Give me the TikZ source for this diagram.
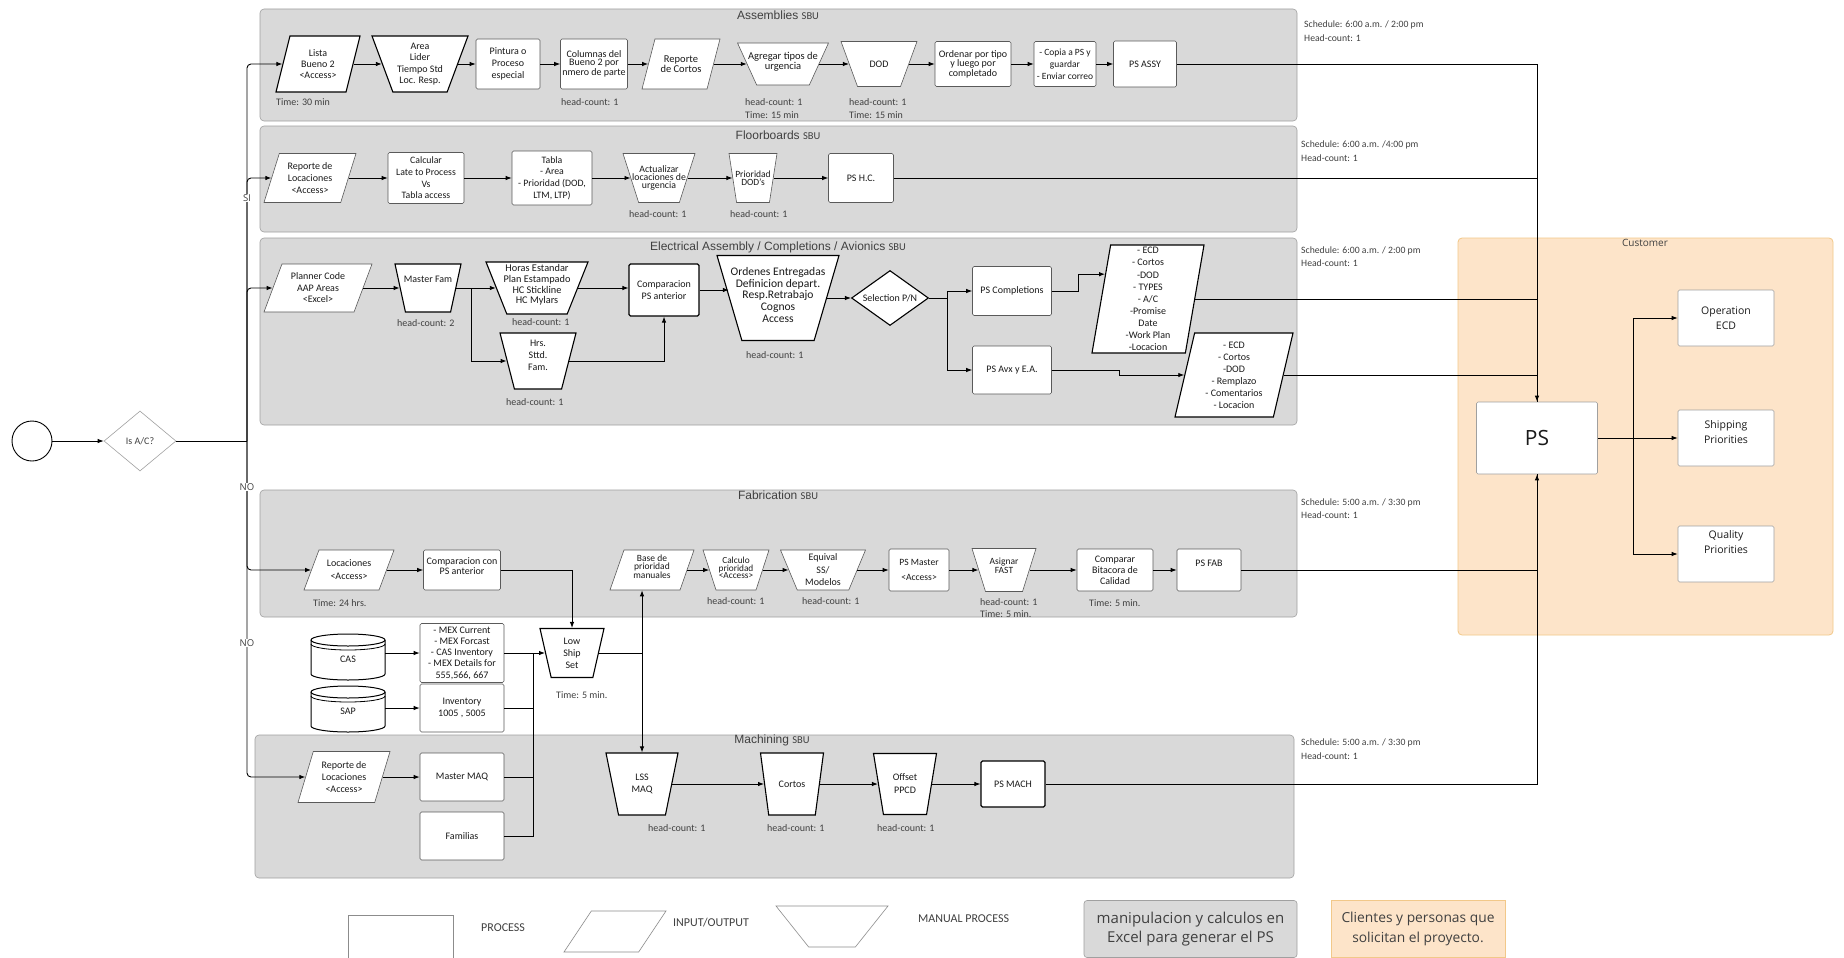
\documentclass[tikz,border=0pt]{standalone}
\usepackage{fontspec}
\setmainfont{Carlito}
\newfontfamily\arialf{Liberation Sans}
\newfontfamily\opensf{Open Sans}
\usetikzlibrary{shapes.geometric,arrows.meta}

\definecolor{lanefill}{HTML}{D9D9D9}
\definecolor{laneedge}{HTML}{A0A0A0}
\definecolor{custfill}{HTML}{FDE4C9}
\definecolor{custedge}{HTML}{F2C889}
\definecolor{ink}{HTML}{1A1A1A}
\definecolor{soft}{HTML}{404040}
\definecolor{liteedge}{HTML}{5A5A5A}
\definecolor{legedge}{HTML}{8C8C8C}

% shape node without text, plus a named text node on top of it
\newcommand\shp[5]{\node[#1] (#2) at #3 {}; \node[#4] (#2-t) at (#2) {#5};}
% database drum centred at #1
\newcommand\dbase[1]{\begin{scope}[shift={#1}]
  \draw[fill=white, draw=black, line width=1pt] (-37,-17) -- (-37,17)
    arc[start angle=180,end angle=360,x radius=37pt,y radius=6pt] -- (37,-17)
    arc[start angle=0,end angle=180,x radius=37pt,y radius=6pt] -- cycle;
  \draw[line width=1pt] (-37,-17) arc[start angle=180,end angle=360,x radius=37pt,y radius=6pt];
  \draw[line width=0.8pt] (-37,-13) arc[start angle=180,end angle=360,x radius=37pt,y radius=6pt];
\end{scope}}
\newcommand\sbu{{\normalfont\fontsize{10.5}{12}\selectfont SBU}}

\begin{document}
\begin{tikzpicture}[x=1pt,y=-1pt,
  every node/.style={inner sep=1pt, align=center, text=ink, font=\fontsize{10}{12}\selectfont},
  fz/.style 2 args={font=\fontsize{#1}{#2}\selectfont},
  sz/.style 2 args={minimum width=#1pt, minimum height=#2pt},
  edgelite/.style={draw=liteedge, line width=0.6pt},
  edgeheavy/.style={draw=black, line width=1.1pt},
  proc/.style={rectangle, rounded corners=1.5pt, fill=white, edgelite},
  io/.style={trapezium, trapezium left angle=76, trapezium right angle=104,
    trapezium stretches=true, fill=white, inner sep=1pt, edgelite},
  iowide/.style={trapezium, trapezium left angle=60, trapezium right angle=120,
    trapezium stretches=true, fill=white, inner sep=1pt, draw=legedge, line width=0.6pt},
  man/.style={trapezium, trapezium left angle=#1, trapezium right angle=#1,
    trapezium stretches=true, fill=white, inner sep=1pt, edgelite},
  man/.default=110,
  lane/.style={fill=lanefill, draw=laneedge, line width=0.6pt, rounded corners=4pt},
  ttl/.style={text=soft, font=\arialf\fontsize{12}{14}\selectfont},
  note/.style={anchor=west, inner sep=0pt, text=soft, font=\fontsize{10}{12}\selectfont},
  sched/.style={anchor=west, inner sep=0pt, text=soft, font=\fontsize{9.7}{11}\selectfont},
  legtxt/.style={anchor=west, inner sep=0pt, text=soft, font=\fontsize{12}{14}\selectfont},
  cust/.style={proc, draw=laneedge, font=\opensf\fontsize{10.5}{14.5}\selectfont},
  flow/.style={line width=0.9pt, -{Latex[length=6pt,width=4.5pt]}},
  wire/.style={line width=0.9pt},
  branch/.style={fill=white, inner sep=1pt, text=soft, font=\opensf\fontsize{9.5}{11}\selectfont},
]
\useasboundingbox (0,0) rectangle (1844,958);
\fill[white] (0,0) rectangle (1844,958);

% ---------- swim lanes ----------
\draw[lane] (260,9) rectangle (1297,121);
\draw[lane] (260,126) rectangle (1297,232);
\draw[lane] (260,238) rectangle (1297,425);
\draw[lane] (260,490) rectangle (1297,617);
\draw[lane] (255,735) rectangle (1294,878);
\draw[fill=custfill, draw=custedge, line width=0.8pt, rounded corners=4pt] (1458,238) rectangle (1833,635);

\node[ttl] (t-asm) at (778,15) {Assemblies \sbu};
\node[ttl] (t-flo) at (778,135) {Floorboards \sbu};
\node[ttl] (t-ele) at (778,247) {Electrical Assembly / Completions / Avionics \sbu};
\node[ttl] (t-fab) at (778,495) {Fabrication \sbu};
\node[ttl] (t-mach) at (772,740) {Machining \sbu};
\node[text=soft, font=\opensf\fontsize{10}{12}\selectfont] (t-cust) at (1645,243) {Customer};

% ---------- schedules ----------
\node[sched] (s1a) at (1304,25) {Schedule: 6:00 a.m. / 2:00 pm};
\node[sched] (s1b) at (1304,38) {Head-count: 1};
\node[sched] (s2a) at (1301,145) {Schedule: 6:00 a.m. /4:00 pm};
\node[sched] (s2b) at (1301,158) {Head-count: 1};
\node[sched] (s3a) at (1301,251) {Schedule: 6:00 a.m. / 2:00 pm};
\node[sched] (s3b) at (1301,263) {Head-count: 1};
\node[sched] (s4a) at (1301,503) {Schedule: 5:00 a.m. / 3:30 pm};
\node[sched] (s4b) at (1301,515) {Head-count: 1};
\node[sched] (s5a) at (1301,743) {Schedule: 5:00 a.m. / 3:30 pm};
\node[sched] (s5b) at (1301,756) {Head-count: 1};

% ---------- entry ----------
\node[circle, draw=black, line width=0.9pt, minimum size=40pt, inner sep=0pt] (start) at (32,441) {};
\node[diamond, draw=laneedge, line width=0.6pt, sz={72}{60}, inner sep=0pt, text=soft] (isac) at (140,441) {Is A/C?};
\coordinate (trunk) at (247,441);

% ---------- Assemblies ----------
\shp{io, sz={84}{56}, edgeheavy}{lista}{(318,64)}{fz={10}{11.3}}{Lista\\Bueno 2\\<Access>}
\shp{man=111, sz={96}{56}, edgeheavy}{area}{(420,64)}{fz={10}{11.3}}{Area\\Lider\\Tiempo Std\\Loc. Resp.}
\node[proc, sz={64}{50}, fz={10}{12}] (pint) at (508,64) {Pintura o\\Proceso\\especial};
\node[proc, sz={67}{50}, fz={10}{8}] (colu) at (594,64) {Columnas del\\Bueno 2 por\\nmero de parte};
\shp{io, sz={78}{50}}{repc}{(681,64)}{fz={10.5}{8}}{Reporte\\de Cortos}
\shp{man=110, sz={91}{42}}{agr}{(783,64)}{fz={10.5}{8}, yshift=2pt}{Agregar tipos de\\urgencia}
\shp{man=111, sz={76}{45}}{dod}{(879,64)}{}{DOD}
\node[proc, sz={76}{45}, fz={10}{8}] (ordn) at (973,64) {Ordenar por tipo\\y luego por\\completado};
\node[proc, sz={62}{45}, fz={9.5}{12}] (copia) at (1065,64) {- Copia a PS y\\guardar\\- Enviar correo};
\node[proc, sz={63}{46}] (psassy) at (1145,64) {PS ASSY};
\node[note] (n-a1) at (276,102) {Time: 30 min};
\node[note] (n-a2) at (561,102) {head-count: 1};
\node[note] (n-a3) at (745,102) {head-count: 1};
\node[note] (n-a4) at (745,115) {Time: 15 min};
\node[note] (n-a5) at (849,102) {head-count: 1};
\node[note] (n-a6) at (849,115) {Time: 15 min};

% ---------- Floorboards ----------
\shp{io, sz={92}{49}}{rlf}{(310,178)}{fz={10}{11.8}}{Reporte de\\Locaciones\\<Access>}
\node[proc, sz={76}{51}, fz={9.8}{11.6}] (calc) at (426,178) {Calcular\\Late to Process\\Vs\\Tabla access};
\node[proc, sz={80}{54}, fz={9.8}{11.8}] (tabla) at (552,178) {Tabla\\- Area\\- Prioridad (DOD,\\LTM, LTP)};
\shp{man=111, sz={72}{49}}{actl}{(659,178)}{fz={9.8}{8}}{Actualizar\\locaciones de\\urgencia}
\shp{man=103, sz={48}{49}}{prio}{(753,178)}{fz={9.5}{8}}{Prioridad\\DOD's}
\node[proc, sz={65}{49}] (pshc) at (861,178) {PS H.C.};
\node[note] (n-f1) at (629,214) {head-count: 1};
\node[note] (n-f2) at (730,214) {head-count: 1};

% ---------- Electrical / Completions / Avionics ----------
\shp{io, sz={108}{48}}{plan}{(318,288)}{fz={10}{11.5}}{Planner Code\\AAP Areas\\<Excel>}
\shp{man=103, sz={66}{48}, edgeheavy}{mfam}{(428,288)}{yshift=9pt}{Master Fam}
\shp{man=109, sz={102}{52}, edgeheavy}{horas}{(537,288)}{fz={10.3}{10.6}, yshift=3pt}{Horas Estandar\\Plan Estampado\\HC Stickline\\HC Mylars}
\shp{man=107, sz={76}{56}, edgeheavy}{hrs}{(538,361)}{fz={10}{12}, yshift=6pt}{Hrs.\\Sttd.\\Fam.}
\node[proc, edgeheavy, sz={70}{52}, fz={10}{12}] (comp) at (664,290) {Comparacion\\PS anterior};
\shp{man=109, sz={122}{85}, edgeheavy}{ord}{(778,298)}{fz={11.6}{11.7}, yshift=3pt}{Ordenes Entregadas\\Definicion depart.\\Resp.Retrabajo\\Cognos\\Access}
\shp{diamond, sz={77}{55}, fill=white, edgeheavy, inner sep=1pt}{sel}{(890,298)}{}{Selection P/N}
\node[proc, sz={79}{49}] (pscomp) at (1012,291) {PS Completions};
\node[proc, sz={79}{48}] (psavx) at (1012,370) {PS Avx y E.A.};
\shp{io, sz={112}{108}, edgeheavy}{l1}{(1148,299)}{fz={10}{12.1}}{- ECD\\- Cortos\\-DOD\\- TYPES\\- A/C\\-Promise\\Date\\-Work Plan\\-Locacion}
\shp{io, sz={118}{84}, edgeheavy}{l2}{(1234,375)}{fz={10}{12}}{- ECD\\- Cortos\\-DOD\\- Remplazo\\- Comentarios\\- Locacion}
\node[note] (n-e1) at (397,323) {head-count: 2};
\node[note] (n-e2) at (512,322) {head-count: 1};
\node[note] (n-e3) at (506,402) {head-count: 1};
\node[note] (n-e4) at (746,355) {head-count: 1};

% ---------- Fabrication ----------
\shp{io, sz={90}{40}}{locf}{(349,570)}{fz={10}{13}}{Locaciones\\<Access>}
\shp{proc, sz={77}{40}}{cmpf}{(462,570)}{fz={10}{8}, yshift=4pt}{Comparacion con\\PS anterior}
\shp{io, sz={84}{40}}{base}{(652,570)}{fz={9.5}{7.5}, yshift=3pt}{Base de\\prioridad\\manuales}
\shp{man=108, sz={66}{40}}{calcp}{(736,570)}{fz={9.3}{7.5}, yshift=2pt}{Calculo\\prioridad\\<Access>}
\shp{man=108, sz={85}{40}}{equi}{(823,570)}{fz={10}{12.5}}{Equival\\SS/\\Modelos}
\node[proc, sz={60}{42}, fz={9.6}{15}] (psm) at (919,570) {PS Master\\<Access>};
\shp{man=110, sz={64}{43}}{asg}{(1004,570)}{fz={9.5}{7}, yshift=4pt}{Asignar\\FAST}
\node[proc, sz={76}{42}, fz={10}{11}] (cmpr) at (1115,570) {Comparar\\Bitacora de\\Calidad};
\shp{proc, sz={64}{42}}{psfab}{(1209,570)}{yshift=7pt}{PS FAB}
\node[note] (n-b1) at (313,603) {Time: 24 hrs.};
\node[note] (n-b2) at (707,601) {head-count: 1};
\node[note] (n-b3) at (802,601) {head-count: 1};
\node[note] (n-b4) at (980,602) {head-count: 1};
\node[note] (n-b5) at (980,614) {Time: 5 min.};
\node[note] (n-b6) at (1089,603) {Time: 5 min.};

% ---------- data sources ----------
\dbase{(348,657)}
\node[sz={74}{46}] (cas) at (348,659) {CAS};
\dbase{(348,709)}
\node[sz={74}{44}] (sap) at (348,711) {SAP};
\node[proc, sz={84}{59}, fz={10}{11.2}] (mex) at (462,653) {- MEX Current\\- MEX Forcast\\- CAS Inventory\\- MEX Details for\\555,566, 667};
\node[proc, sz={84}{48}, fz={10}{12}] (inv) at (462,708) {Inventory\\1005 , 5005};
\shp{man=105, sz={64}{49}, edgeheavy}{lowship}{(572,653)}{fz={10}{12}}{Low\\Ship\\Set}
\node[note] (n-ls) at (556,695) {Time: 5 min.};
\coordinate (mrg) at (533,653);

% ---------- Machining ----------
\shp{io, sz={92}{51}}{rlm}{(344,777)}{fz={10}{12}}{Reporte de\\Locaciones\\<Access>}
\node[proc, sz={84}{48}] (mmaq) at (462,777) {Master MAQ};
\node[proc, sz={84}{48}] (fam) at (462,836) {Familias};
\shp{man=105, sz={72}{62}, edgeheavy}{lssm}{(642,784)}{fz={10}{12}}{LSS\\MAQ}
\shp{man=100, sz={63}{62}, edgeheavy}{cort}{(792,784)}{}{Cortos}
\shp{man=103, sz={63}{61}, edgeheavy}{offs}{(905,784)}{fz={10}{13}}{Offset\\PPCD}
\node[proc, edgeheavy, sz={64}{46}] (psmach) at (1013,784) {PS MACH};
\node[note] (n-m1) at (648,828) {head-count: 1};
\node[note] (n-m2) at (767,828) {head-count: 1};
\node[note] (n-m3) at (877,828) {head-count: 1};

% ---------- Customer ----------
\node[proc, draw=laneedge, sz={121}{72}, font=\opensf\fontsize{21}{24}\selectfont] (ps) at (1537,438) {PS};
\node[cust, sz={96}{56}] (opecd) at (1726,318) {Operation\\ECD};
\shp{cust, sz={96}{56}}{ship}{(1726,438)}{font=\opensf\fontsize{10.5}{14.5}\selectfont, yshift=6pt}{Shipping\\Priorities}
\shp{cust, sz={96}{56}}{qual}{(1726,554)}{font=\opensf\fontsize{10.5}{14.5}\selectfont, yshift=12pt}{Quality\\Priorities}
\coordinate (oj) at (1633,438);

% ---------- connectors ----------
\draw[flow] (start) -- (isac);
\draw[wire] (isac.east) -- (trunk);
\draw[flow, rounded corners=4pt] (trunk) |- (lista.west);
\draw[flow, rounded corners=4pt] (trunk) |- (rlf.west);
\draw[flow, rounded corners=4pt] (trunk) |- (plan.west);
\draw[flow, rounded corners=4pt] (trunk) |- (locf.west);
\draw[flow, rounded corners=4pt] (trunk) |- (rlm.west);
\node[branch] (b-si) at (247,198) {SI};
\node[branch] (b-no1) at (247,487) {NO};
\node[branch] (b-no2) at (247,643) {NO};

\draw[flow] (lista) -- (area);
\draw[flow] (area) -- (pint);
\draw[flow] (pint) -- (colu);
\draw[flow] (colu) -- (repc);
\draw[flow] (repc) -- (agr);
\draw[flow] (agr) -- (dod);
\draw[flow] (dod) -- (ordn);
\draw[flow] (ordn) -- (copia);
\draw[flow] (copia) -- (psassy);

\draw[flow] (rlf) -- (calc);
\draw[flow] (calc) -- (tabla);
\draw[flow] (tabla) -- (actl);
\draw[flow] (actl) -- (prio);
\draw[flow] (prio) -- (pshc);

\coordinate (fj) at (471,288);
\draw[flow] (plan) -- (mfam);
\draw[wire] (mfam.east) -- (fj);
\draw[flow] (fj) -- (horas.west);
\draw[flow] (fj) |- (hrs.west);
\draw[flow] (horas.east) -- (horas.east -| comp.west);
\draw[flow] (hrs.east) -| (comp.south);
\draw[flow] (comp.east) -- (comp.east -| ord.west);
\draw[flow] (ord) -- (sel);
\coordinate (sj) at (947,298);
\draw[wire] (sel.east) -- (sj);
\draw[flow] (sj) |- (pscomp.west);
\draw[flow] (sj) |- (psavx.west);
\draw[flow] (pscomp.east) -- ++(27,0) |- (l1.150);
\draw[flow] (psavx.east) -- ++(68,0) |- (l2.west);

\draw[flow] (locf) -- (cmpf);
\draw[flow] (cmpf.east) -| (lowship.north);
\draw[flow] (base) -- (calcp);
\draw[flow] (calcp) -- (equi);
\draw[flow] (equi) -- (psm);
\draw[flow] (psm) -- (asg);
\draw[flow] (asg) -- (cmpr);
\draw[flow] (cmpr) -- (psfab);

\draw[flow] (cas.east |- mex) -- (mex);
\draw[flow] (sap.east |- inv) -- (inv);
\draw[flow] (mex.east) -- (lowship.west);
\draw[wire] (inv.east) -| (mrg);
\draw[wire] (mmaq.east) -| (mrg);
\draw[wire] (fam.east) -| (mrg);
\draw[flow] (lowship.east) -| (lssm.north);
\draw[flow] (lowship.east) -| (lssm.north |- base.south);

\draw[flow] (rlm) -- (mmaq);
\draw[flow] (lssm) -- (cort);
\draw[flow] (cort) -- (offs);
\draw[flow] (offs) -- (psmach);

\draw[flow] (psassy.east) -| (ps.north);
\draw[wire] (pshc.east) -| (ps.north);
\draw[wire] (l1.east) -| (ps.north);
\draw[wire] (l2.east) -| (ps.north);
\draw[flow] (psmach.east) -| (ps.south);
\draw[wire] (psfab.east) -| (ps.south);

\draw[wire] (ps.east) -- (oj);
\draw[flow] (oj) |- (opecd.west);
\draw[flow] (oj) -- (ship.west);
\draw[flow] (oj) |- (qual.west);

% ---------- legend ----------
\node[draw=legedge, line width=0.6pt, sz={105}{48}] (lg-proc) at (400.5,939) {};
\node[legtxt] (lg-proc-t) at (481,928) {PROCESS};
\node[iowide, sz={102}{41}] (lg-io) at (615,931.5) {};
\node[legtxt] (lg-io-t) at (673,923) {INPUT/OUTPUT};
\node[man=125, sz={112}{41}, draw=legedge] (lg-man) at (832,926.5) {};
\node[legtxt] (lg-man-t) at (918,919) {MANUAL PROCESS};
\node[fill=lanefill, draw=laneedge, line width=0.6pt, rounded corners=3pt, sz={213}{57}, text=soft,
  font=\opensf\fontsize{15}{19}\selectfont] (lg-excel) at (1190.5,929) {manipulacion y calculos en\\Excel para generar el PS};
\node[fill=custfill, draw=custedge, line width=0.8pt, sz={174}{57}, text=soft,
  font=\opensf\fontsize{13.8}{20}\selectfont] (lg-cust) at (1418,929) {Clientes y personas que\\solicitan el proyecto.};
\end{tikzpicture}
\end{document}
